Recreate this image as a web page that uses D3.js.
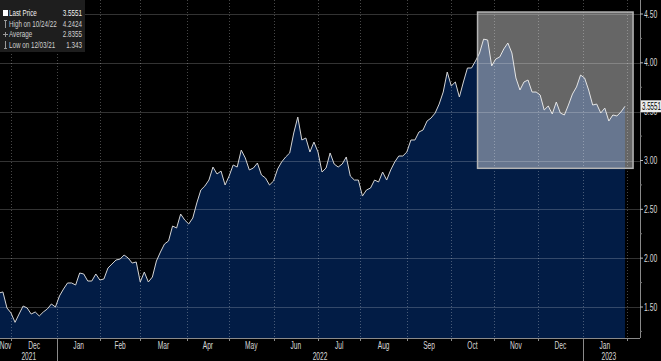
<!DOCTYPE html>
<html><head><meta charset="utf-8">
<script src="https://cdn.jsdelivr.net/npm/d3@7"></script>
<style>
html,body{margin:0;padding:0;background:#000;overflow:hidden}
svg{display:block}
text{font-family:"Liberation Sans",Arial,sans-serif}
</style></head>
<body>
<svg id="c" width="661" height="361"></svg>
<script>
// ---- data (sampled every 2 weekdays, starting 2021-11-23) ----
const values = [
1.643,1.654,1.490,1.439,1.343,1.428,1.510,1.490,1.428,1.449,
1.408,1.449,1.480,1.531,1.500,1.613,1.684,1.746,1.746,1.725,
1.848,1.838,1.766,1.766,1.838,1.776,1.787,1.899,1.940,1.981,
1.991,2.032,2.002,1.950,1.961,1.756,1.858,1.756,1.807,1.971,
2.063,2.145,2.176,2.329,2.309,2.452,2.391,2.350,2.411,2.565,
2.698,2.739,2.800,2.933,2.862,2.892,2.749,2.841,2.954,2.933,
3.107,3.026,2.903,2.923,2.974,2.852,2.821,2.749,2.790,2.913,
2.985,3.036,3.077,3.282,3.445,3.210,3.230,3.087,3.189,3.087,
2.882,2.923,3.077,2.964,2.933,2.964,3.036,2.841,2.800,2.800,
2.636,2.698,2.718,2.800,2.780,2.882,2.800,2.903,2.985,3.046,
3.046,3.087,3.210,3.210,3.292,3.312,3.404,3.435,3.486,3.578,
3.701,3.906,3.763,3.804,3.650,3.804,3.947,3.947,4.019,4.101,
4.2424,4.234,3.968,4.039,4.060,4.142,4.203,4.101,3.845,3.722,
3.804,3.824,3.701,3.701,3.671,3.517,3.558,3.476,3.599,3.486,
3.466,3.568,3.681,3.753,3.875,3.845,3.722,3.568,3.578,3.486,
3.537,3.404,3.466,3.456,3.497,3.5551
];
const startDate = "2021-11-23";
const endDate = "2023-01-31";
const monthLabels = ["Nov","Dec","Jan","Feb","Mar","Apr","May","Jun","Jul","Aug","Sep","Oct","Nov","Dec","Jan"];
const monthStarts = ["2021-11-01","2021-12-01","2022-01-01","2022-02-01","2022-03-01","2022-04-01","2022-05-01","2022-06-01","2022-07-01","2022-08-01","2022-09-01","2022-10-01","2022-11-01","2022-12-01","2023-01-01","2023-02-01"];
const yearLabels = ["2021","2022","2023"];
const yearStarts = ["2021-11-01","2022-01-01","2023-01-01","2023-02-07"];
const yTicks = [1.5,2.0,2.5,3.0,3.5,4.0,4.5];
const yMinorTicks = [1.25,1.75,2.25,2.75,3.25,3.75,4.25];
const boxRange = {start:"2022-10-20", end:"2023-02-06", low:2.92, high:4.52};
const legendRows = [
  {label:"Last Price", value:"3.5551"},
  {label:"High on 10/24/22", value:"4.2424"},
  {label:"Average", value:"2.8355"},
  {label:"Low on 12/03/21", value:"1.343"}
];
const lastPrice = 3.5551;

// ---- business-day index ----
const parse = d3.timeParse("%Y-%m-%d");
const t0 = parse(startDate);
function bizIndex(d){
  let n = 0;
  let cur = new Date(t0);
  if (d >= t0){
    while (cur < d){ const w = cur.getDay(); if (w!==0 && w!==6) n++; cur = d3.timeDay.offset(cur,1); }
  } else {
    while (cur > d){ cur = d3.timeDay.offset(cur,-1); const w = cur.getDay(); if (w!==0 && w!==6) n--; }
  }
  return n;
}

const W = 661, H = 361;
const plotR = 640, plotB = 338;
const x = d3.scaleLinear().domain([6, 311]).range([11, 627]);
const y = d3.scaleLinear().domain([1.5, 4.5]).range([307, 14]);

// condensed text helper
function ctext(parent, data, fx, fy, ftxt, o){
  return parent.selectAll(null).data(data).join("text")
    .attr("transform",(d,i)=>`translate(${fx(d,i)},${fy(d,i)}) scale(${o.sx},1)`)
    .attr("dy","0.35em")
    .attr("text-anchor",o.anchor||"start")
    .attr("font-size",o.size)
    .attr("fill",typeof o.fill==="function"?o.fill:()=>o.fill)
    .text(ftxt);
}

const svg = d3.select("#c");
svg.append("rect").attr("width",W).attr("height",H).attr("fill","#000");
svg.append("defs").append("clipPath").attr("id","clip")
  .append("rect").attr("x",0).attr("y",0).attr("width",plotR).attr("height",plotB);

const pts = values.map((v,i)=>({xi:2*i, v}));

const g = svg.append("g").attr("clip-path","url(#clip)");
g.append("path").datum(pts)
  .attr("d", d3.area().x(d=>x(d.xi)).y0(plotB).y1(d=>y(d.v)))
  .attr("fill","#021c45");

g.selectAll(".hg").data(yTicks).join("line")
  .attr("x1",0).attr("x2",plotR).attr("y1",d=>Math.round(y(d))+0.5).attr("y2",d=>Math.round(y(d))+0.5)
  .attr("stroke","rgba(255,255,255,0.2)").attr("stroke-width",1);
const msIdx = monthStarts.map(s=>bizIndex(parse(s)));
g.selectAll(".vg").data(msIdx.slice(1)).join("line")
  .attr("x1",d=>Math.round(x(d))+0.5).attr("x2",d=>Math.round(x(d))+0.5).attr("y1",0).attr("y2",plotB)
  .attr("stroke","rgba(255,255,255,0.28)").attr("stroke-width",1)
  .attr("stroke-dasharray","1,2");

g.append("path").datum(pts)
  .attr("d", d3.line().x(d=>x(d.xi)).y(d=>y(d.v)))
  .attr("fill","none").attr("stroke","#d4d4d4").attr("stroke-width",1);

const bx0 = x(bizIndex(parse(boxRange.start))), bx1 = x(bizIndex(parse(boxRange.end)));
svg.append("rect")
  .attr("x",bx0).attr("y",y(boxRange.high))
  .attr("width",bx1-bx0).attr("height",y(boxRange.low)-y(boxRange.high))
  .attr("fill","rgba(255,255,255,0.4)")
  .attr("stroke","#b4b4b4").attr("stroke-width",1.5);

svg.append("line").attr("x1",0).attr("x2",plotR).attr("y1",plotB+0.5).attr("y2",plotB+0.5)
  .attr("stroke","#8a8a8a").attr("stroke-width",1);
svg.append("line").attr("x1",plotR+0.5).attr("x2",plotR+0.5).attr("y1",0).attr("y2",plotB)
  .attr("stroke","#8a8a8a").attr("stroke-width",1);

svg.selectAll(".yt").data(yTicks).join("line")
  .attr("x1",plotR).attr("x2",plotR+3).attr("y1",d=>y(d)).attr("y2",d=>y(d))
  .attr("stroke","#bbb");
svg.selectAll(".ymt").data(yMinorTicks).join("line")
  .attr("x1",plotR).attr("x2",plotR+2).attr("y1",d=>y(d)).attr("y2",d=>y(d))
  .attr("stroke","#777");
ctext(svg, yTicks, ()=>plotR+4, d=>y(d), d=>d3.format(".2f")(d), {sx:0.68, size:10, fill:"#d8d8d8"});

// last price label
const lpY = y(lastPrice);
svg.append("rect").attr("x",plotR+1).attr("y",lpY-6).attr("width",21).attr("height",12)
  .attr("fill","#ececec");
ctext(svg, [lastPrice], ()=>plotR+2, ()=>lpY, d=>d3.format(".4f")(d), {sx:0.62, size:10, fill:"#000"});

// x axis
svg.selectAll(".xt").data(msIdx.slice(1)).join("line")
  .attr("x1",d=>Math.round(x(d))+0.5).attr("x2",d=>Math.round(x(d))+0.5).attr("y1",plotB).attr("y2",plotB+3)
  .attr("stroke","#8a8a8a");
const mData = monthLabels.map((m,i)=>{
  const a = Math.max(0, x(msIdx[i])), b = Math.min(plotR, x(msIdx[i+1]));
  return {m, cx:(a+b)/2};
});
ctext(svg, mData, d=>d.cx, ()=>345, d=>d.m, {sx:0.66, size:10, fill:"#d8d8d8", anchor:"middle"});
const ysIdx = yearStarts.map(s=>bizIndex(parse(s)));
const yData = yearLabels.map((yl,i)=>{
  const a = Math.max(0, x(ysIdx[i])), b = Math.min(plotR, x(ysIdx[i+1]));
  return {yl, cx:(a+b)/2};
});
ctext(svg, yData, d=>d.cx, ()=>356, d=>d.yl, {sx:0.66, size:10, fill:"#d8d8d8", anchor:"middle"});
svg.selectAll(".ysep").data(ysIdx.slice(1,3)).join("line")
  .attr("x1",d=>Math.round(x(d))+0.5).attr("x2",d=>Math.round(x(d))+0.5)
  .attr("y1",plotB).attr("y2",H)
  .attr("stroke","#8a8a8a");

// legend
const lg = svg.append("g");
lg.append("rect").attr("x",0).attr("y",0).attr("width",85).attr("height",52)
  .attr("fill","#1e1e1e");
const rowY = [13,24,34,45];
const lfill = (d,i)=>i===0?"#f2f2f2":"#d0d0d0";
ctext(lg, legendRows, ()=>9, (d,i)=>rowY[i], d=>d.label, {sx:0.66, size:9.5, fill:lfill});
ctext(lg, legendRows, ()=>82, (d,i)=>rowY[i], d=>d.value, {sx:0.66, size:9.5, fill:lfill, anchor:"end"});
lg.append("rect").attr("x",3).attr("y",10).attr("width",5).attr("height",6).attr("fill","#fff");
lg.append("line").attr("x1",5.5).attr("x2",5.5).attr("y1",20).attr("y2",28).attr("stroke","#999");
lg.append("line").attr("x1",4).attr("x2",7).attr("y1",20.5).attr("y2",20.5).attr("stroke","#999");
lg.append("line").attr("x1",3).attr("x2",8).attr("y1",34.5).attr("y2",34.5).attr("stroke","#999");
lg.append("line").attr("x1",5.5).attr("x2",5.5).attr("y1",32).attr("y2",37).attr("stroke","#999");
lg.append("line").attr("x1",5.5).attr("x2",5.5).attr("y1",41).attr("y2",49).attr("stroke","#999");
lg.append("line").attr("x1",4).attr("x2",7).attr("y1",48.5).attr("y2",48.5).attr("stroke","#999");
</script>
</body></html>
